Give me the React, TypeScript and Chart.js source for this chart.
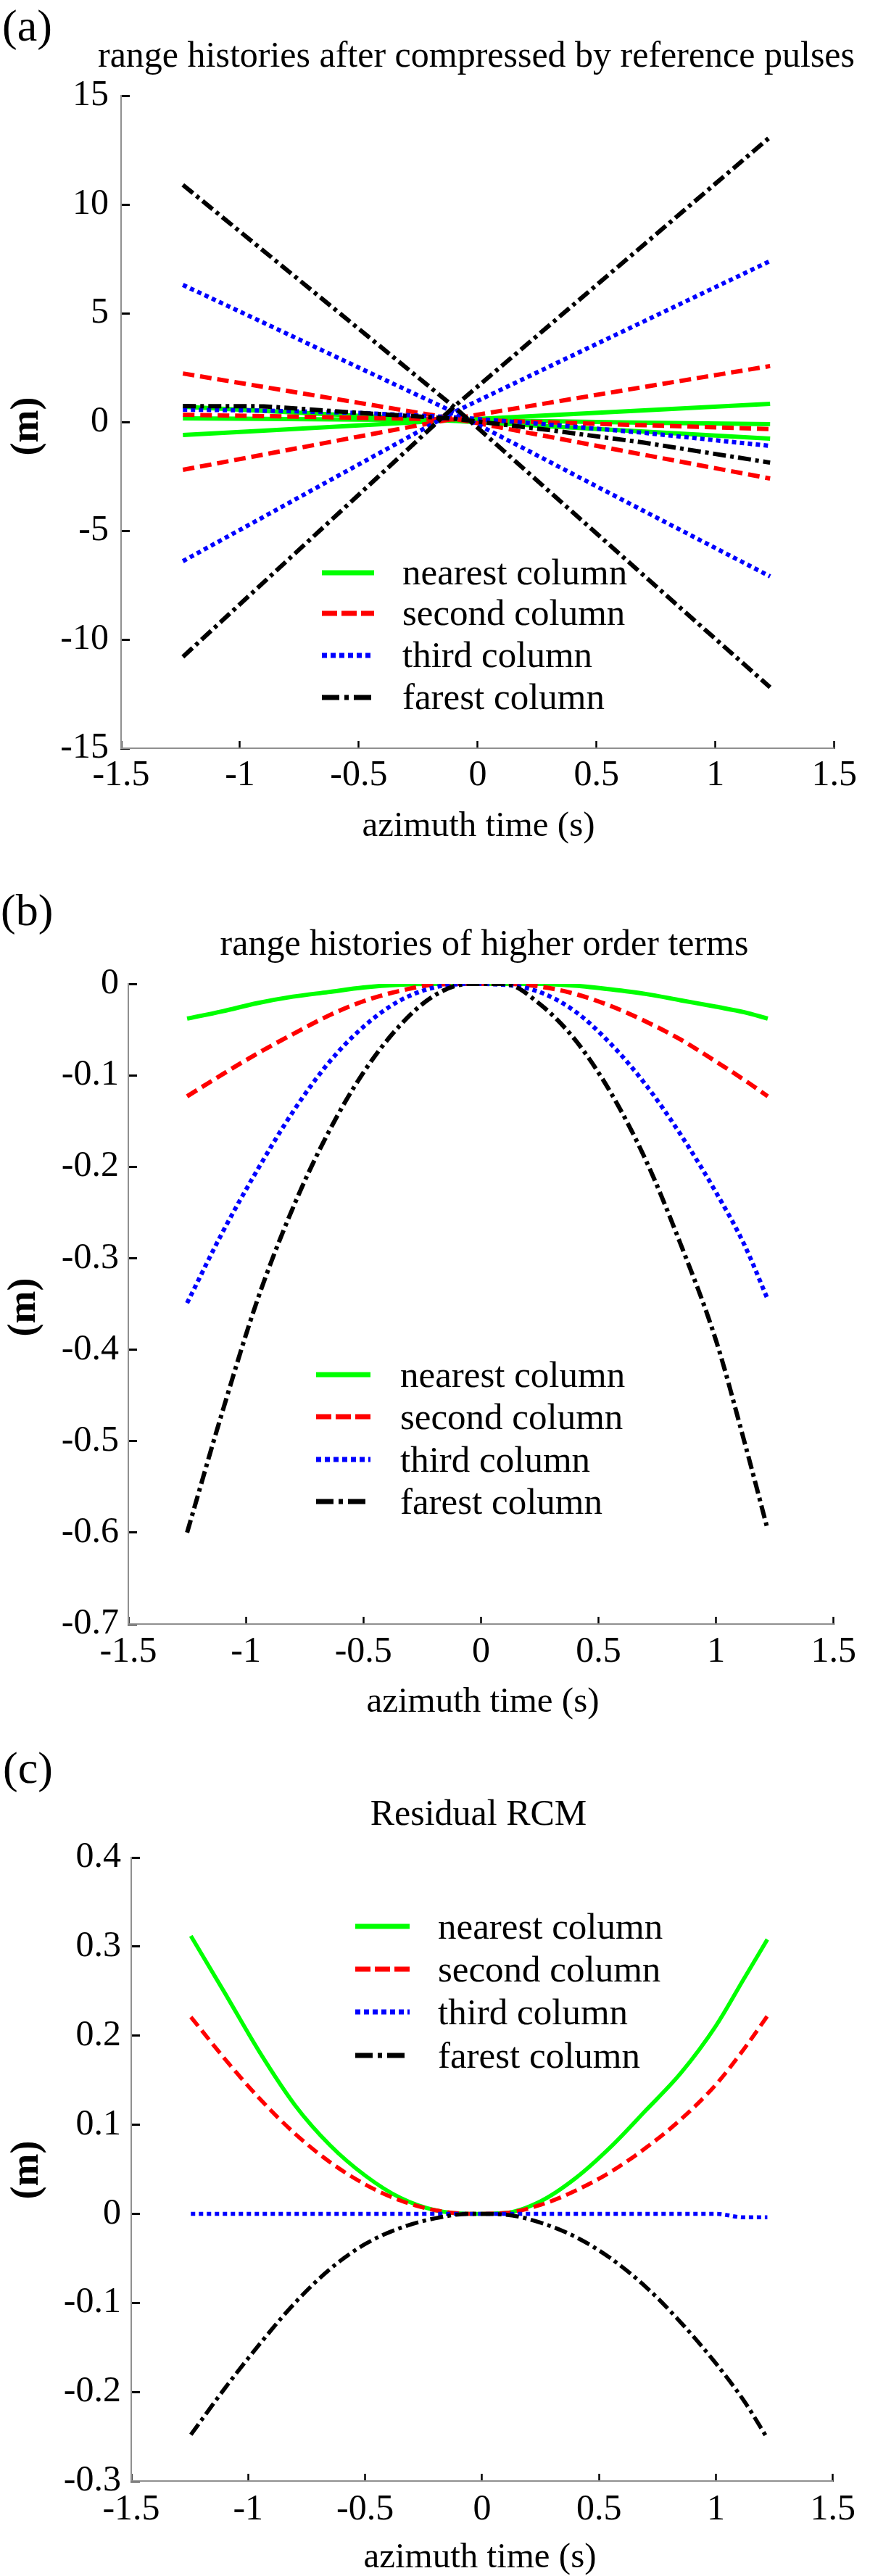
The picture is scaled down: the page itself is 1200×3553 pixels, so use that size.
import React, { useEffect, useRef } from "react";
import { Chart, registerables } from "chart.js";

Chart.register(...registerables);

const FONT = "'Liberation Serif', 'Times New Roman', Times, serif";

const LEGEND_LABELS = ["nearest column", "second column", "third column", "farest column"];
const X_AXIS_TITLE = "azimuth time (s)";
const Y_AXIS_TITLE = "(m)";
const PANEL_LABELS = ["(a)", "(b)", "(c)"];
const PANEL_TITLES = [
  "range histories after compressed by reference pulses",
  "range histories of higher order terms",
  "Residual RCM",
];
const X_MIN = -1.5;
const X_MAX = 1.5;
const X_STEP = 0.5;

// ---------- Panel (a) data ----------
const TIME_A = [-1.24, -0.9, -0.5, -0.1, 0.3, 0.7, 1.23];
const A_NEAREST_1 = [-0.6, -0.4, -0.16, 0.08, 0.31, 0.53, 0.83];
const A_NEAREST_2 = [0.7, 0.51, 0.28, 0.05, -0.2, -0.44, -0.77];
const A_NEAREST_3 = [0.17, 0.14, 0.11, 0.08, 0.03, -0.03, -0.1];
const A_SECOND_1 = [2.23, 1.61, 0.88, 0.15, -0.68, -1.51, -2.6];
const A_SECOND_2 = [-2.2, -1.5, -0.67, 0.15, 0.88, 1.61, 2.57];
const A_SECOND_3 = [0.33, 0.27, 0.19, 0.12, -0.02, -0.15, -0.33];
const A_THIRD_1 = [6.3, 4.56, 2.5, 0.45, -1.82, -4.1, -7.1];
const A_THIRD_2 = [-6.4, -4.36, -1.95, 0.45, 2.54, 4.63, 7.4];
const A_THIRD_3 = [0.57, 0.52, 0.42, 0.22, -0.12, -0.5, -1.1];
const A_FAREST_1 = [10.9, 7.86, 4.28, 0.7, -3.18, -7.07, -12.2];
const A_FAREST_2 = [-10.8, -7.37, -3.34, 0.7, 4.43, 8.16, 13.1];
const A_FAREST_3 = [0.73, 0.72, 0.42, 0.15, -0.37, -0.95, -1.87];

// ---------- Panel (b) data ----------
const TIME_B = [-1.25, -1.1, -0.95, -0.8, -0.65, -0.5, -0.35, -0.2, -0.05, 0.1, 0.25, 0.4, 0.55, 0.7, 0.85, 1.0, 1.12, 1.22];
const B_NEAREST = [-0.038, -0.03, -0.021, -0.014, -0.009, -0.004, -0.001, 0, 0, 0, 0, -0.002, -0.006, -0.011, -0.018, -0.025, -0.031, -0.038];
const B_SECOND = [-0.123, -0.099, -0.076, -0.055, -0.035, -0.019, -0.008, -0.001, 0, 0, -0.003, -0.011, -0.024, -0.041, -0.061, -0.085, -0.105, -0.123];
const B_THIRD = [-0.349, -0.272, -0.203, -0.14, -0.087, -0.047, -0.019, -0.004, 0, -0.001, -0.009, -0.03, -0.065, -0.11, -0.165, -0.228, -0.285, -0.345];
const B_FAREST = [-0.6, -0.468, -0.345, -0.245, -0.163, -0.097, -0.047, -0.013, 0, 0, -0.022, -0.061, -0.118, -0.192, -0.285, -0.39, -0.5, -0.597];

// ---------- Panel (c) data ----------
const TIME_C = [-1.245, -1.1, -0.95, -0.8, -0.65, -0.5, -0.35, -0.2, -0.05, 0.1, 0.25, 0.4, 0.55, 0.7, 0.85, 1.0, 1.12, 1.22];
const C_NEAREST = [0.312, 0.248, 0.181, 0.122, 0.077, 0.043, 0.018, 0.004, 0, 0.001, 0.014, 0.04, 0.075, 0.116, 0.158, 0.211, 0.264, 0.308];
const C_SECOND = [0.221, 0.174, 0.129, 0.09, 0.058, 0.033, 0.015, 0.004, 0, 0.001, 0.01, 0.026, 0.047, 0.074, 0.106, 0.145, 0.185, 0.222];
const C_THIRD = [0, 0, 0, 0, 0, 0, 0, 0, 0, 0, 0, 0, 0, 0, 0, 0, -0.004, -0.004];
const C_FAREST = [-0.248, -0.196, -0.146, -0.1, -0.062, -0.034, -0.016, -0.005, 0, -0.001, -0.01, -0.026, -0.05, -0.082, -0.122, -0.168, -0.21, -0.252];

// ---------- styles ----------
const COLUMN_STYLES = [
  { color: "#00ff00", dash: [] as number[], legendDash: [] as number[] },
  { color: "#ff0000", dash: [16, 8], legendDash: [21, 6] },
  { color: "#0000ff", dash: [6, 5], legendDash: [7, 5] },
  { color: "#000000", dash: [18, 6, 5, 6], legendDash: [24, 7, 6, 7] },
];

type Series = { col: number; x: number[]; y: number[] };
type PanelSpec = {
  top: number;
  height: number;
  area: { left: number; right: number; top: number; bottom: number };
  yMin: number;
  yMax: number;
  yStep: number;
  xTickPad: number;
  yTickPad: number;
  label: string;
  labelX: number;
  labelBaseline: number;
  title: string;
  titleX: number;
  titleBaseline: number;
  xTitleX: number;
  xTitleBaseline: number;
  yTitleX: number;
  yTitleY: number;
  legend: { x0: number; x1: number; textX: number; baselines: number[]; offset: number };
  lineWidth: number;
  smooth: boolean;
  series: Series[];
};

const PANELS: PanelSpec[] = [
  {
    top: 0,
    height: 1200,
    area: { left: 167, right: 1163, top: 132, bottom: 1032 },
    yMin: -15,
    yMax: 15,
    yStep: 5,
    xTickPad: 18,
    yTickPad: 29,
    label: PANEL_LABELS[0],
    labelX: 3,
    labelBaseline: 56,
    title: PANEL_TITLES[0],
    titleX: 657,
    titleBaseline: 92,
    xTitleX: 660,
    xTitleBaseline: 1153,
    yTitleX: 38,
    yTitleY: 588,
    legend: { x0: 444, x1: 516, textX: 555, baselines: [806, 862, 920, 978], offset: 16 },
    lineWidth: 6,
    smooth: false,
    series: [
      { col: 0, x: TIME_A, y: A_NEAREST_1 },
      { col: 0, x: TIME_A, y: A_NEAREST_2 },
      { col: 0, x: TIME_A, y: A_NEAREST_3 },
      { col: 1, x: TIME_A, y: A_SECOND_1 },
      { col: 1, x: TIME_A, y: A_SECOND_2 },
      { col: 1, x: TIME_A, y: A_SECOND_3 },
      { col: 2, x: TIME_A, y: A_THIRD_1 },
      { col: 2, x: TIME_A, y: A_THIRD_2 },
      { col: 2, x: TIME_A, y: A_THIRD_3 },
      { col: 3, x: TIME_A, y: A_FAREST_1 },
      { col: 3, x: TIME_A, y: A_FAREST_2 },
      { col: 3, x: TIME_A, y: A_FAREST_3 },
    ],
  },
  {
    top: 1200,
    height: 1200,
    area: { left: 177, right: 1167, top: 157, bottom: 1040 },
    yMin: -0.7,
    yMax: 0,
    yStep: 0.1,
    xTickPad: 19,
    yTickPad: 25,
    label: PANEL_LABELS[1],
    labelX: 1,
    labelBaseline: 76,
    title: PANEL_TITLES[1],
    titleX: 668,
    titleBaseline: 117,
    xTitleX: 666,
    xTitleBaseline: 1161,
    yTitleX: 34,
    yTitleY: 603,
    legend: { x0: 436, x1: 511, textX: 552, baselines: [713, 771, 830, 888], offset: 17 },
    lineWidth: 6,
    smooth: true,
    series: [
      { col: 0, x: TIME_B, y: B_NEAREST },
      { col: 1, x: TIME_B, y: B_SECOND },
      { col: 2, x: TIME_B, y: B_THIRD },
      { col: 3, x: TIME_B, y: B_FAREST },
    ],
  },
  {
    top: 2400,
    height: 1153,
    area: { left: 181, right: 1154, top: 162, bottom: 1022 },
    yMin: -0.3,
    yMax: 0.4,
    yStep: 0.1,
    xTickPad: 20,
    yTickPad: 26,
    label: PANEL_LABELS[2],
    labelX: 4,
    labelBaseline: 59,
    title: PANEL_TITLES[2],
    titleX: 660,
    titleBaseline: 117,
    xTitleX: 662,
    xTitleBaseline: 1141,
    yTitleX: 38,
    yTitleY: 593,
    legend: { x0: 490, x1: 565, textX: 604, baselines: [274, 333, 392, 452], offset: 17 },
    lineWidth: 5.5,
    smooth: true,
    series: [
      { col: 0, x: TIME_C, y: C_NEAREST },
      { col: 1, x: TIME_C, y: C_SECOND },
      { col: 2, x: TIME_C, y: C_THIRD },
      { col: 3, x: TIME_C, y: C_FAREST },
    ],
  },
];

function fmt(v: number | string): string {
  const n = Math.round(Number(v) * 10) / 10;
  return String(n === 0 ? 0 : n);
}

function textPlugin(p: PanelSpec) {
  return {
    id: "panelText",
    afterDraw(chart: any) {
      const ctx: CanvasRenderingContext2D = chart.ctx;
      ctx.save();
      ctx.fillStyle = "#000";
      ctx.textBaseline = "alphabetic";

      ctx.font = `62px ${FONT}`;
      ctx.textAlign = "left";
      ctx.fillText(p.label, p.labelX, p.labelBaseline);

      ctx.font = `50px ${FONT}`;
      ctx.textAlign = "center";
      ctx.fillText(p.title, p.titleX, p.titleBaseline);

      ctx.font = `49px ${FONT}`;
      ctx.fillText(X_AXIS_TITLE, p.xTitleX, p.xTitleBaseline);

      ctx.save();
      ctx.translate(p.yTitleX, p.yTitleY);
      ctx.rotate(-Math.PI / 2);
      ctx.font = `bold 54px ${FONT}`;
      ctx.textBaseline = "middle";
      ctx.textAlign = "center";
      ctx.fillText(Y_AXIS_TITLE, 0, 0);
      ctx.restore();

      // legend
      const lg = p.legend;
      LEGEND_LABELS.forEach((lab, i) => {
        const st = COLUMN_STYLES[i];
        const b = lg.baselines[i];
        ctx.save();
        ctx.strokeStyle = st.color;
        ctx.lineWidth = 7;
        ctx.lineCap = "butt";
        ctx.setLineDash(st.legendDash);
        ctx.beginPath();
        ctx.moveTo(lg.x0, b - lg.offset);
        ctx.lineTo(lg.x1, b - lg.offset);
        ctx.stroke();
        ctx.restore();
        ctx.font = `51px ${FONT}`;
        ctx.textAlign = "left";
        ctx.textBaseline = "alphabetic";
        ctx.fillStyle = "#000";
        ctx.fillText(lab, lg.textX, b);
      });
      ctx.restore();
    },
  };
}

function buildConfig(p: PanelSpec): any {
  const datasets = p.series.map((s) => {
    const st = COLUMN_STYLES[s.col];
    return {
      data: s.x.map((x, i) => ({ x, y: s.y[i] })),
      borderColor: st.color,
      backgroundColor: st.color,
      borderWidth: p.lineWidth,
      borderDash: st.dash,
      borderCapStyle: "butt",
      borderJoinStyle: "round",
      pointRadius: 0,
      pointHoverRadius: 0,
      fill: false,
      tension: 0,
      cubicInterpolationMode: p.smooth ? "monotone" : "default",
      order: 3 - s.col,
    };
  });

  const tickFont = { family: FONT, size: 50 };
  return {
    type: "line",
    data: { datasets },
    options: {
      animation: false,
      responsive: false,
      devicePixelRatio: 1,
      events: [],
      layout: {
        padding: { left: 0, top: p.area.top, right: 1200 - p.area.right, bottom: 0 },
      },
      plugins: {
        legend: { display: false },
        title: { display: false },
        tooltip: { enabled: false },
      },
      scales: {
        x: {
          type: "linear",
          min: X_MIN,
          max: X_MAX,
          afterFit: (s: any) => {
            s.height = p.height - p.area.bottom;
          },
          ticks: {
            stepSize: X_STEP,
            autoSkip: false,
            maxRotation: 0,
            minRotation: 0,
            padding: p.xTickPad,
            color: "#000",
            font: tickFont,
            callback: (v: any) => fmt(v),
          },
          grid: {
            drawOnChartArea: false,
            drawTicks: true,
            tickLength: -10,
            tickColor: "#000",
            tickWidth: 2.5,
          },
          border: { display: true, color: "#909090", width: 2 },
        },
        y: {
          type: "linear",
          min: p.yMin,
          max: p.yMax,
          afterFit: (s: any) => {
            s.width = p.area.left;
          },
          ticks: {
            stepSize: p.yStep,
            autoSkip: false,
            padding: p.yTickPad,
            color: "#000",
            font: tickFont,
            callback: (v: any) => fmt(v),
          },
          grid: {
            drawOnChartArea: false,
            drawTicks: true,
            tickLength: -12,
            tickColor: "#000",
            tickWidth: 3,
          },
          border: { display: true, color: "#909090", width: 2 },
        },
      },
    },
    plugins: [textPlugin(p)],
  };
}

function Panel({ spec }: { spec: PanelSpec }) {
  const ref = useRef<HTMLCanvasElement>(null);
  useEffect(() => {
    if (!ref.current) return;
    const chart = new Chart(ref.current, buildConfig(spec));
    return () => chart.destroy();
  }, [spec]);
  return (
    <div style={{ position: "absolute", left: 0, top: spec.top, width: 1200, height: spec.height }}>
      <canvas ref={ref} width={1200} height={spec.height} style={{ display: "block", width: 1200, height: spec.height }} />
    </div>
  );
}

export default function App() {
  return (
    <div
      style={{
        position: "absolute",
        left: 0,
        top: 0,
        width: 1200,
        height: 3553,
        overflow: "hidden",
        background: "#ffffff",
      }}
    >
      {PANELS.map((p, i) => (
        <Panel key={i} spec={p} />
      ))}
    </div>
  );
}
